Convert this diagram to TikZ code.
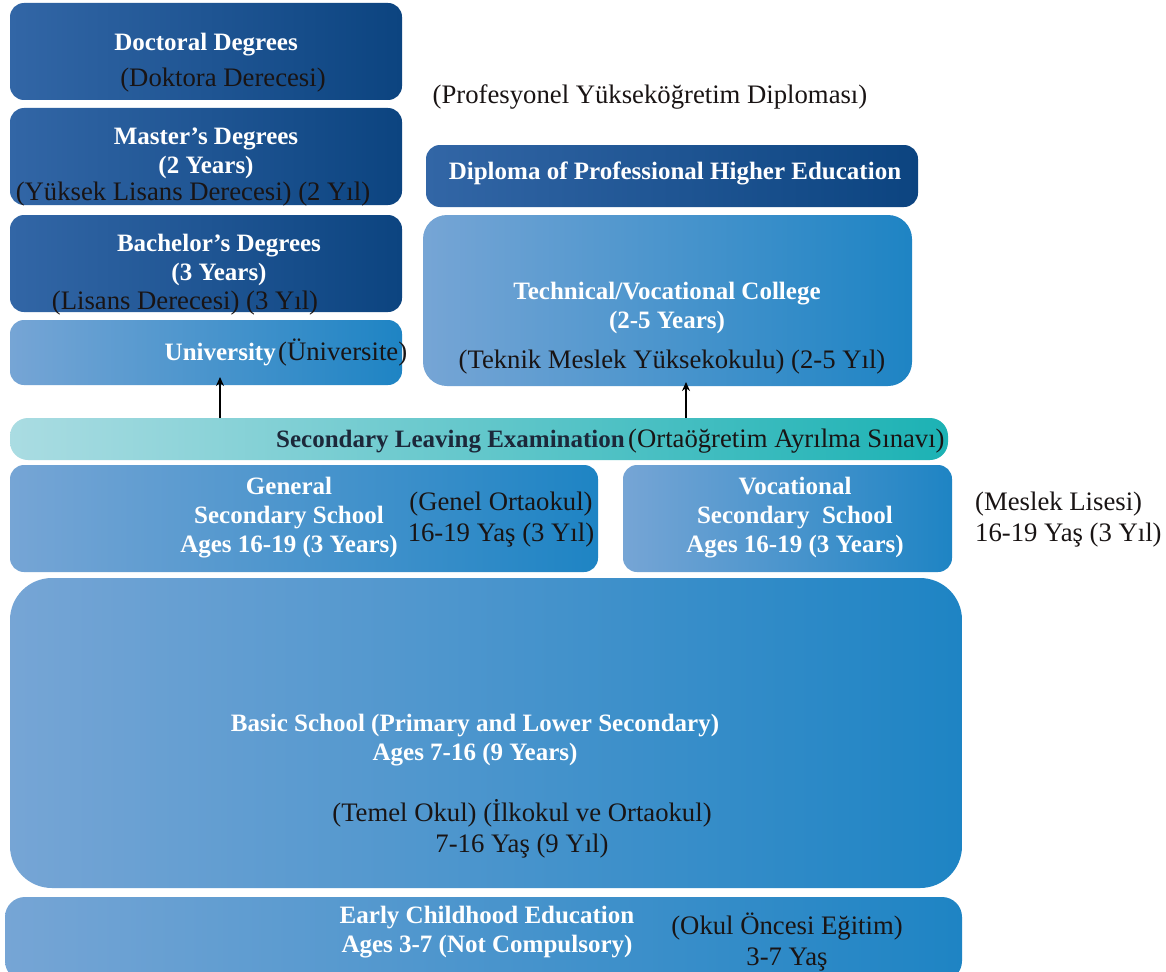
\documentclass[tikz,border=0pt]{standalone}
\usepackage{fontspec}
\setmainfont{Liberation Serif}
\usetikzlibrary{arrows.meta}
\definecolor{dkL}{RGB}{50,102,166}
\definecolor{dkR}{RGB}{12,68,128}
\definecolor{ltL}{RGB}{118,165,213}
\definecolor{ltR}{RGB}{30,132,196}
\definecolor{exL}{RGB}{170,220,226}
\definecolor{exR}{RGB}{28,178,180}
\definecolor{extext}{RGB}{28,40,58}
\definecolor{trtext}{RGB}{25,20,20}
\tikzset{
  box/.style={inner sep=0pt, outer sep=0pt, rounded corners=14pt},
  darkbox/.style={box, left color=dkL, right color=dkR},
  lightbox/.style={box, left color=ltL, right color=ltR},
  exambox/.style={box, rounded corners=18pt, left color=exL, right color=exR},
  en/.style={text=white, font=\fontsize{25}{29}\selectfont\bfseries, align=center, inner sep=0pt},
  tr/.style={text=trtext, font=\fontsize{26.7}{31}\selectfont, align=center, inner sep=0pt},
  arr/.style={-{Stealth[length=9pt,width=8pt]}, line width=1.6pt, black},
}
\begin{document}
\begin{tikzpicture}[x=1pt,y=-1pt]
\useasboundingbox (0,0) rectangle (1166,971);
\fill[white] (0,0) rectangle (1166,971);
% university column
\node[darkbox, minimum width=392, minimum height=97] (doc) at (206,51.5) {};
\node[en] (docen) at (206,45) {Doctoral Degrees};
\node[tr] (doctr) at (223,80) {(Doktora Derecesi)};
\node[darkbox, minimum width=392, minimum height=97] (mas) at (206,156.5) {};
\node[en] (masen) at (206,153) {Master’s Degrees\\(2 Years)};
\node[tr] (mastr) at (193,194) {(Yüksek Lisans Derecesi) (2 Yıl)};
\node[darkbox, minimum width=392, minimum height=97] (bac) at (206,263.5) {};
\node[en] (bacen) at (219,260) {Bachelor’s Degrees\\(3 Years)};
\node[tr] (bactr) at (185,303) {(Lisans Derecesi) (3 Yıl)};
\node[lightbox, minimum width=392, minimum height=65] (uni) at (206,352.5) {};
\node[en, anchor=base east] (unien) at (276,360) {University};
\node[tr, anchor=base west] (unitr) at (278,360) {(Üniversite)};
% professional column
\node[tr] (proftr) at (650,97) {(Profesyonel Yükseköğretim Diploması)};
\node[darkbox, minimum width=492, minimum height=62] (dip) at (672,176) {};
\node[en] (dipen) at (675,173) {Diploma of Professional Higher Education};
\node[lightbox, rounded corners=24pt, minimum width=489, minimum height=171] (tech) at (667.5,300.5) {};
\node[en] (techen) at (667,308) {Technical/Vocational College\\(2-5 Years)};
\node[tr] (techtr) at (672,362) {(Teknik Meslek Yüksekokulu) (2-5 Yıl)};
% exam
\node[exambox, minimum width=938, minimum height=42] (exam) at (479,439) {};
\node[en, text=extext, anchor=base east] (examen) at (625,447) {Secondary Leaving Examination};
\node[tr, anchor=base west] (examtr) at (628,447) {(Ortaöğretim Ayrılma Sınavı)};
\coordinate (ax1) at (220,0);
\coordinate (ax2) at (686,0);
\draw[arr] (exam.north -| ax1) -- ([yshift=8pt]uni.south -| ax1);
\draw[arr] (exam.north -| ax2) -- ([yshift=4pt]tech.south -| ax2);
% secondary
\node[lightbox, minimum width=588, minimum height=107] (gen) at (304,518.5) {};
\node[en] (genen) at (289,518) {General\\Secondary School\\Ages 16-19 (3 Years)};
\node[tr] (gentr) at (501,520) {(Genel Ortaokul)\\16-19 Yaş (3 Yıl)};
\node[lightbox, minimum width=329, minimum height=107] (voc) at (787.5,518.5) {};
\node[en] (vocen) at (795,518) {Vocational\\Secondary~ School\\Ages 16-19 (3 Years)};
\node[tr, anchor=west, align=left] (voctr) at (975,520) {(Meslek Lisesi)\\16-19 Yaş (3 Yıl)};
% basic
\node[lightbox, rounded corners=42pt, minimum width=952, minimum height=310] (basic) at (486,733) {};
\node[en] (basicen) at (475,740) {Basic School (Primary and Lower Secondary)\\Ages 7-16 (9 Years)};
\node[tr] (basictr) at (522,829) {(Temel Okul) (İlkokul ve Ortaokul)\\7-16 Yaş (9 Yıl)};
% early
\node[lightbox, rounded corners=20pt, minimum width=957, minimum height=84] (early) at (483.5,939) {};
\node[en] (earlyen) at (487,932) {Early Childhood Education\\Ages 3-7 (Not Compulsory)};
\node[tr] (earlytr) at (787,942) {(Okul Öncesi Eğitim)\\3-7 Yaş};
\end{tikzpicture}
\end{document}
